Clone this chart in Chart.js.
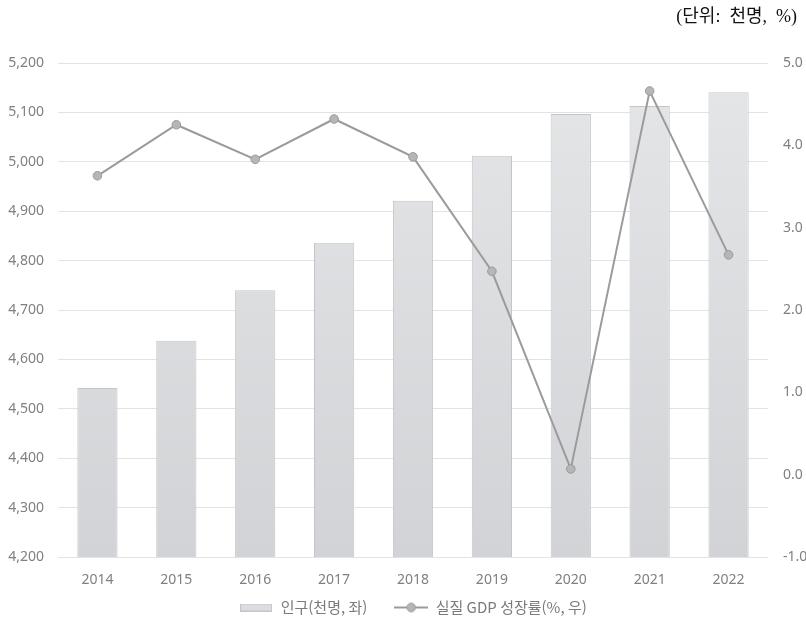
<!DOCTYPE html>
<html lang="ko">
<head>
<meta charset="utf-8">
<script src="https://cdn.jsdelivr.net/npm/chart.js@4/dist/chart.umd.min.js"></script>
<style>
  html, body { margin: 0; padding: 0; background: #fff; overflow: hidden; }
  #wrap { position: relative; width: 806px; height: 618px; }
  canvas { display: block; }
</style>
</head>
<body>
<div id="wrap"><canvas id="myChart" width="806" height="618"></canvas></div>
<script>
// DATA
const years = ["2014", "2015", "2016", "2017", "2018", "2019", "2020", "2021", "2022"];
const population = [4542, 4638, 4740, 4836, 4921, 5012, 5097, 5113, 5141];
const gdpGrowth = [3.63, 4.25, 3.83, 4.32, 3.86, 2.47, 0.07, 4.66, 2.67];
const popLabel = "인구(천명, 좌)";
const gdpLabel = "실질 GDP 성장률(%, 우)";
const unitText = "(단위:  천명,  %)";

const tickFont = { family: "'Noto Sans', 'Noto Sans CJK KR', sans-serif", size: 14 };
const tickColor = "#808080";

// legend icons
function barIcon() {
  const c = document.createElement("canvas");
  c.width = 32; c.height = 8;
  const g = c.getContext("2d");
  g.fillStyle = "#dcdde0";
  g.fillRect(0.5, 0.5, 31, 7);
  g.strokeStyle = "#c4c5c8";
  g.strokeRect(0.5, 0.5, 31, 7);
  return c;
}
function lineIcon() {
  const c = document.createElement("canvas");
  c.width = 34; c.height = 12;
  const g = c.getContext("2d");
  g.strokeStyle = "#9b9b9b";
  g.lineWidth = 2;
  g.beginPath(); g.moveTo(0, 6); g.lineTo(34, 6); g.stroke();
  g.beginPath(); g.arc(17, 6, 4.3, 0, Math.PI * 2);
  g.fillStyle = "#b5b6b9"; g.fill();
  g.lineWidth = 1; g.strokeStyle = "#9a9a9a"; g.stroke();
  return c;
}
const icons = [barIcon(), lineIcon()];

function barGradient(context) {
  const area = context.chart.chartArea;
  if (!area) return "#dcdde0";
  const grad = context.chart.ctx.createLinearGradient(0, area.top, 0, area.bottom);
  grad.addColorStop(0, "#e5e6e8");
  grad.addColorStop(1, "#d2d3d6");
  return grad;
}

const ctx = document.getElementById("myChart");
const myChart = new Chart(ctx, {
  type: "bar",
  data: {
    labels: years,
    datasets: [
      {
        type: "bar",
        label: popLabel,
        data: population,
        yAxisID: "y",
        backgroundColor: barGradient,
        borderColor: "#c4c5c8",
        borderWidth: 1,
        borderSkipped: "bottom",
        categoryPercentage: 1,
        barPercentage: 0.51,
        order: 2,
      },
      {
        type: "line",
        label: gdpLabel,
        data: gdpGrowth,
        yAxisID: "y1",
        borderColor: "#9b9b9b",
        borderWidth: 2,
        pointRadius: 4.3,
        pointBackgroundColor: "#b5b6b9",
        pointBorderColor: "#9a9a9a",
        pointBorderWidth: 1,
        tension: 0,
        order: 1,
      },
    ],
  },
  options: {
    responsive: false,
    animation: false,
    layout: { padding: { left: 0, right: 0, top: 0, bottom: 0 } },
    plugins: {
      tooltip: { enabled: false },
      title: {
        display: true,
        // trailing spaces keep the text off the right edge
        text: unitText + "\u00a0\u00a0",
        align: "end",
        color: "#111",
        font: { family: "'Liberation Serif', 'Noto Sans CJK KR', serif", size: 18, weight: "normal" },
        padding: { top: 6, bottom: 35.4 },
      },
      legend: {
        position: "bottom",
        fullSize: false,
        maxHeight: 28,
        labels: {
          usePointStyle: true,
          pointStyleWidth: 34,
          padding: 10,
          color: "#7a7a7a",
          font: { family: "'Noto Sans CJK KR', sans-serif", size: 15 },
          // extra trailing space on the first item gives the wider gap between items
          generateLabels: (chart) =>
            chart.data.datasets.map((ds, i) => ({
              text: i === 0 ? ds.label + "     " : ds.label,
              pointStyle: icons[i],
              fillStyle: "#dcdde0",
              strokeStyle: "#9b9b9b",
              lineWidth: 0,
              datasetIndex: i,
              fontColor: "#7a7a7a",
            })),
        },
      },
    },
    scales: {
      x: {
        afterFit: (scale) => { scale.height = 33; },
        grid: { display: false, drawTicks: false },
        border: { display: false },
        ticks: { color: tickColor, font: tickFont, padding: 15 },
      },
      y: {
        position: "left",
        min: 4200,
        max: 5200,
        afterFit: (scale) => { scale.width = 58; },
        grid: { color: "#e3e3e3", lineWidth: 1, drawTicks: false },
        border: { display: false },
        ticks: {
          stepSize: 100,
          padding: 14,
          color: tickColor,
          font: tickFont,
          callback: (v) => v.toLocaleString("en-US"),
        },
      },
      y1: {
        position: "right",
        min: -1,
        max: 5,
        afterFit: (scale) => { scale.width = 38; },
        grid: { display: false, drawTicks: false },
        border: { display: false },
        ticks: {
          stepSize: 1,
          padding: 15,
          color: tickColor,
          font: tickFont,
          callback: (v) => v.toFixed(1),
        },
      },
    },
  },
});
</script>
</body>
</html>
